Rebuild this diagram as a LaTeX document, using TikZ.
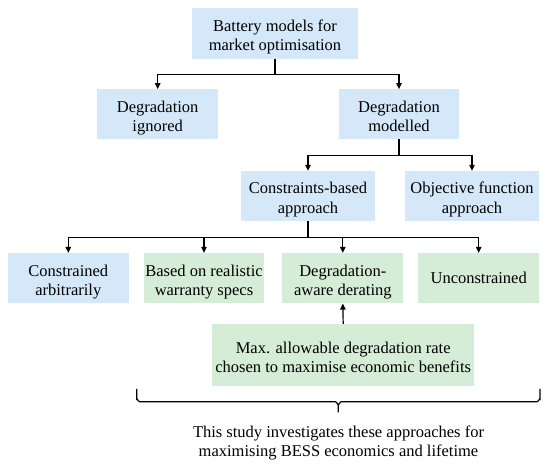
\documentclass[tikz,border=0pt]{standalone}
\usepackage{fontspec}
\setmainfont{Liberation Serif}
\usetikzlibrary{arrows.meta}
\definecolor{boxblue}{RGB}{213,232,250}
\definecolor{boxgreen}{RGB}{213,236,214}
\newcommand{\mytopst}{\rule{0pt}{19.1pt}}
\newcommand{\mybotst}{\rule[-3.6pt]{0pt}{3.6pt}}
\tikzset{
  base box/.style={inner sep=0pt, align=center, font=\fontsize{16.5}{19.5}\selectfont},
  bluebox/.style={base box, fill=boxblue},
  greenbox/.style={base box, fill=boxgreen},
  arr/.style={line width=1.2pt, -{Triangle[length=6pt,width=5.5pt]}},
  brace line/.style={line width=1.2pt},
  note/.style={inner sep=0pt, align=center, font=\fontsize{16.5}{19.5}\selectfont}
}
\begin{document}
\begin{tikzpicture}[x=1pt,y=-1pt]
\useasboundingbox (0,0) rectangle (550,468);
\fill[white] (0,0) rectangle (550,468);
% nodes
\node[bluebox, minimum width=166pt, minimum height=50.5pt] (top) at (275,33.5) {\mytopst Battery models for\\market optimisation\mybotst};
\node[bluebox, minimum width=120.7pt, minimum height=50pt] (ign) at (157.7,114.3) {\mytopst Degradation\\ignored\mybotst};
\node[bluebox, minimum width=120.7pt, minimum height=50pt] (mod) at (399,114.3) {\mytopst Degradation\\modelled\mybotst};
\node[bluebox, minimum width=134pt, minimum height=50pt] (con) at (308,196) {\mytopst Constraints-based\\approach\mybotst};
\node[bluebox, minimum width=134pt, minimum height=50pt] (obj) at (472,196) {\mytopst Objective function\\approach\mybotst};
\node[bluebox, minimum width=120.7pt, minimum height=50.3pt] (arb) at (68.3,278.2) {\mytopst Constrained\\arbitrarily\mybotst};
\node[greenbox, minimum width=120.7pt, minimum height=50.3pt] (war) at (204,278.2) {\mytopst Based on realistic\\warranty specs\mybotst};
\node[greenbox, minimum width=120.7pt, minimum height=50.3pt] (awr) at (342.8,278.2) {\mytopst Degradation-\\aware derating\mybotst};
\node[greenbox, minimum width=120.7pt, minimum height=50.3pt] (unc) at (478.7,278.2) {Unconstrained};
\node[greenbox, minimum width=262.3pt, minimum height=62.3pt] (max) at (343.2,355.2) {\mytopst Max. allowable degradation rate\\chosen to maximise economic benefits\mybotst};
\node[note] (txt) at (338.5,443) {This study investigates these approaches for\\maximising BESS economics and lifetime};
% connectors
\draw[arr] (top.south) -- ++(0,15.3) -| (ign.north);
\draw[arr] (top.south) -- ++(0,15.3) -| (mod.north);
\draw[arr] (mod.south) -- ++(0,16) -| (con.north);
\draw[arr] (mod.south) -- ++(0,16) -| (obj.north);
\draw[arr] (con.south) -- ++(0,16.3) -| (arb.north);
\draw[arr] (con.south) -- ++(0,16.3) -| (war.north);
\draw[arr] (con.south) -- ++(0,16.3) -| (awr.north);
\draw[arr] (con.south) -- ++(0,16.3) -| (unc.north);
\draw[arr] (max.north) -- (awr.south);
% brace
\coordinate (bl) at (136.7,389);
\coordinate (br) at (540,389);
\coordinate (bt) at (338.3,412.3);
\draw[brace line] (bl) -- (136.7,399) to[out=90,in=180] (139.7,401.7) -- (335.3,401.7) to[out=0,in=-90] (338.3,404.7) -- (bt);
\draw[brace line] (br) -- (540,399) to[out=90,in=0] (537,401.7) -- (341.3,401.7) to[out=180,in=-90] (338.3,404.7);
\end{tikzpicture}
\end{document}
